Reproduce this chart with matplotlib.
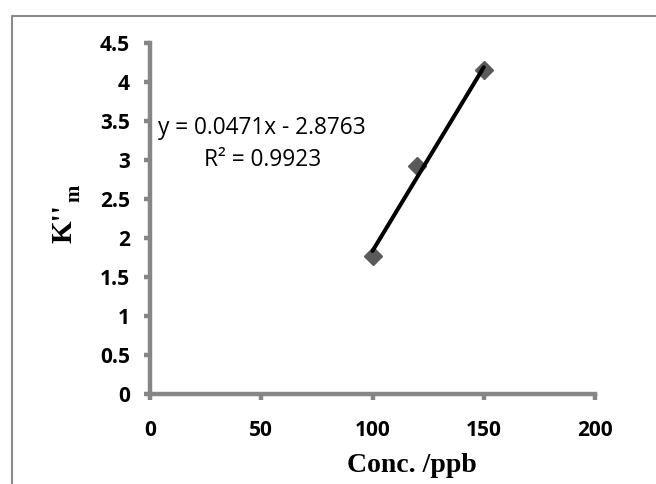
import matplotlib
matplotlib.use("Agg")
import matplotlib.pyplot as plt
from matplotlib.lines import Line2D
import numpy as np

# data
conc = [100, 120, 150]
k_m = [1.77, 2.92, 4.15]
fit_slope = 0.0471
fit_intercept = -2.8763
r_squared = 0.9923
x_ticks = [0, 50, 100, 150, 200]
y_ticks = [0, 0.5, 1, 1.5, 2, 2.5, 3, 3.5, 4, 4.5]

W, H = 656, 484
GREY = "#868686"

fig = plt.figure(figsize=(W / 100, H / 100), dpi=100)
ax = fig.add_axes([150 / W, 1 - 394 / H, 445 / W, 351 / H])

# trendline from the printed fit, over the data range
x_fit = np.array([min(conc), max(conc)])
ax.plot(x_fit, fit_slope * x_fit + fit_intercept, color="black", lw=2.9,
        solid_capstyle="round", zorder=3)
ax.plot(conc, k_m, "D", color="#5a5a5a", ms=9, mec="#5a5a5a", zorder=2)

ax.set_xlim(0, 200)
ax.set_ylim(0, 4.5)
ax.set_xticks(x_ticks)
ax.set_yticks(y_ticks)
ax.set_xticklabels([f"{t:g}" for t in x_ticks])
ax.set_yticklabels([f"{t:g}" for t in y_ticks])

for side in ("top", "right"):
    ax.spines[side].set_visible(False)
for side in ("left", "bottom"):
    ax.spines[side].set_color(GREY)
    ax.spines[side].set_linewidth(3.2)
ax.tick_params(axis="both", direction="out", length=4.5, width=3.2, color=GREY,
               labelsize=15)
ax.tick_params(axis="x", pad=14)
ax.tick_params(axis="y", pad=10)
for lab in ax.get_xticklabels() + ax.get_yticklabels():
    lab.set_fontfamily("Open Sans")
    lab.set_fontweight("bold")

ax.text(50.5, 3.2, f"y = {fit_slope}x - {abs(fit_intercept)}\nR² = {r_squared}",
        ha="center", va="center", multialignment="center",
        fontsize=16.3, family="Open Sans", linespacing=1.45)

# axis titles
fig.text(412 / W, 1 - 466 / H, "Conc. /ppb", ha="center", va="center",
         fontsize=20, family="Liberation Serif", fontweight="bold")
fig.text(72 / W, 1 - 243 / H, "K''", rotation=90, rotation_mode="anchor",
         ha="left", va="baseline", fontsize=21, family="Liberation Serif",
         fontweight="bold")
fig.text(79 / W, 1 - 202 / H, "m", rotation=90, rotation_mode="anchor",
         ha="left", va="baseline", fontsize=15, family="Liberation Serif",
         fontweight="bold")

# chart-area frame (cut off at right and bottom)
fig.add_artist(Line2D([12 / W, 12 / W, 1], [0, 1 - 16 / H, 1 - 16 / H],
                      transform=fig.transFigure, color="#8a8a8a", lw=1.5))

fig.savefig("out.png", dpi=100)
